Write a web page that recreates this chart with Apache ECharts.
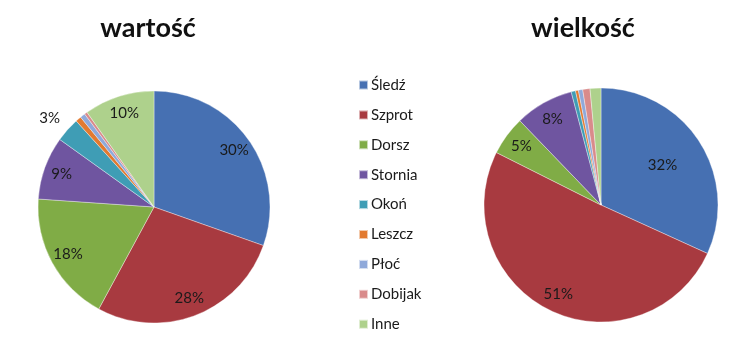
<!DOCTYPE html>
<html>
<head>
<meta charset="utf-8">
<script src="https://cdn.jsdelivr.net/npm/echarts@6/dist/echarts.min.js"></script>
<style>html,body{margin:0;padding:0;background:#fff}#c{width:746px;height:359px}</style>
</head>
<body>
<div id="c"></div>
<script>
const categories = ['Śledź','Szprot','Dorsz','Stornia','Okoń','Leszcz','Płoć','Dobijak','Inne'];
const wartosc = [30.4, 27.5, 18.2, 8.8, 3.4, 0.8, 0.7, 0.4, 9.8];
const wielkosc = [31.8, 50.6, 5.4, 8.1, 0.6, 0.4, 0.6, 1.0, 1.5];
const titles = ['wartość', 'wielkość'];
const colors = ['#4670B2','#A83A40','#80AC46','#6F55A0','#3F9DB5','#E27A30','#8FA9DA','#D98B8B','#AED18C'];

const FONT = 'Lato';
const chart = echarts.init(document.getElementById('c'), null, {renderer:'canvas'});

function pieData(vals){ return categories.map((n,i)=>({name:n, value:vals[i]})); }
const pctFmt = p => Math.round(p.percent) + '%';

function basePie(vals, center, r){
  return {
    type:'pie', center:center, radius:[0, r], startAngle:90, clockwise:true,
    data: pieData(vals), silent:true, animation:false,
    label:{show:false}, labelLine:{show:false},
    itemStyle:{borderColor:'rgba(255,255,255,0.6)', borderWidth:0.6}
  };
}
// transparent overlay used only to place labels at a chosen radial fraction
function labelPie(vals, center, r, innerFrac, showFn, outsideFn){
  const total = vals.reduce((a,b)=>a+b,0);
  return {
    type:'pie', center:center, radius:[r*innerFrac, r], startAngle:90, clockwise:true,
    silent:true, animation:false, avoidLabelOverlap:false, legendHoverLink:false,
    itemStyle:{color:'rgba(0,0,0,0)'},
    labelLine:{show:false, length:6, length2:0},
    label:{show:true, position:'inside', formatter:pctFmt, color:'#1a1a1a', fontSize:15, fontFamily:FONT},
    data: categories.map((n,i)=>{
      const pct = vals[i]/total*100;
      const d = {name:n, value:vals[i]};
      if (outsideFn && outsideFn(i,pct)) {
        d.label = {show:true, position:'outside', offset:[2,-8]};
      } else if (!showFn(i,pct)) {
        d.label = {show:false};
      }
      return d;
    })
  };
}

const L = {c:[154,207], r:116};
const R = {c:[601,205], r:117};

chart.setOption({
  color: colors,
  animation:false,
  title:[
    {text:titles[0], left:143, top:10, textAlign:'center', textStyle:{fontFamily:FONT, fontWeight:'bold', fontSize:27, color:'#111'}},
    {text:titles[1], left:578, top:10, textAlign:'center', textStyle:{fontFamily:FONT, fontWeight:'bold', fontSize:27, color:'#111'}}
  ],
  legend:{
    orient:'vertical', left:353, top:72, itemWidth:9, itemHeight:9, itemGap:13.9,
    icon:'rect', selectedMode:false,
    data: categories,
    textStyle:{fontFamily:FONT, fontSize:15, color:'#1a1a1a', lineHeight:16, padding:[0,0,0,-2]}
  },
  series:[
    basePie(wartosc, L.c, L.r),
    basePie(wielkosc, R.c, R.r),
    labelPie(wartosc, L.c, L.r, 0.64, (i,p)=>Math.round(p)>=3 && i!==4, (i,p)=>i===4),
    labelPie(wielkosc, R.c, R.r, 0.64, (i,p)=>Math.round(p)>=3 && i!==0),
    labelPie(wielkosc, R.c, R.r, 0.2, (i,p)=>i===0)
  ]
});
</script>
</body>
</html>
